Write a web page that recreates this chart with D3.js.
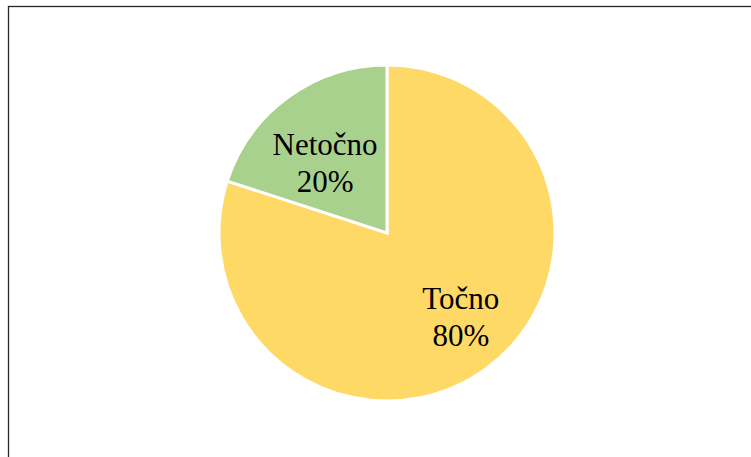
<!DOCTYPE html>
<html><head><meta charset="utf-8">
<script src="https://cdn.jsdelivr.net/npm/d3@7"></script>
<style>html,body{margin:0;padding:0;background:#fff;overflow:hidden}</style>
</head><body>
<svg id="chart" width="751" height="457"></svg>
<script>
const categories = ["Točno", "Netočno"];
const values = [80, 20];
const colors = ["#FFD966", "#A9D18E"];

const svg = d3.select("#chart");
svg.append("rect").attr("x", 8.5).attr("y", 6.5).attr("width", 800).attr("height", 500)
  .attr("fill", "#fff").attr("stroke", "#262626").attr("stroke-width", 1.3);

const cx = 387, cy = 233, r = 168;
const g = svg.append("g").attr("transform", `translate(${cx},${cy})`);
const pie = d3.pie().sort(null).value(d => d)(values);
const arc = d3.arc().innerRadius(0).outerRadius(r);
g.selectAll("path").data(pie).enter().append("path")
  .attr("d", arc).attr("fill", (d, i) => colors[i])
  .attr("stroke", "#fff").attr("stroke-width", 3).attr("stroke-linejoin", "miter");

// label placement (layout): radius fraction and angle shift per slice
const labelR = [0.66, 0.56];
const labelShift = [-0.1, -0.09];
const fmt = d3.format(".0%");
const total = d3.sum(values);
pie.forEach((d, i) => {
  const a = (d.startAngle + d.endAngle) / 2 + labelShift[i];
  const lr = r * labelR[i];
  const x = Math.sin(a) * lr, y = -Math.cos(a) * lr;
  const t = g.append("text").attr("text-anchor", "middle")
    .attr("font-family", "'Liberation Serif', 'Times New Roman', serif")
    .attr("font-size", 31).attr("fill", "#000");
  t.append("tspan").attr("x", x).attr("y", y - 7).text(categories[i]);
  t.append("tspan").attr("x", x).attr("y", y + 30).text(fmt(values[i] / total));
});
</script>
</body></html>
